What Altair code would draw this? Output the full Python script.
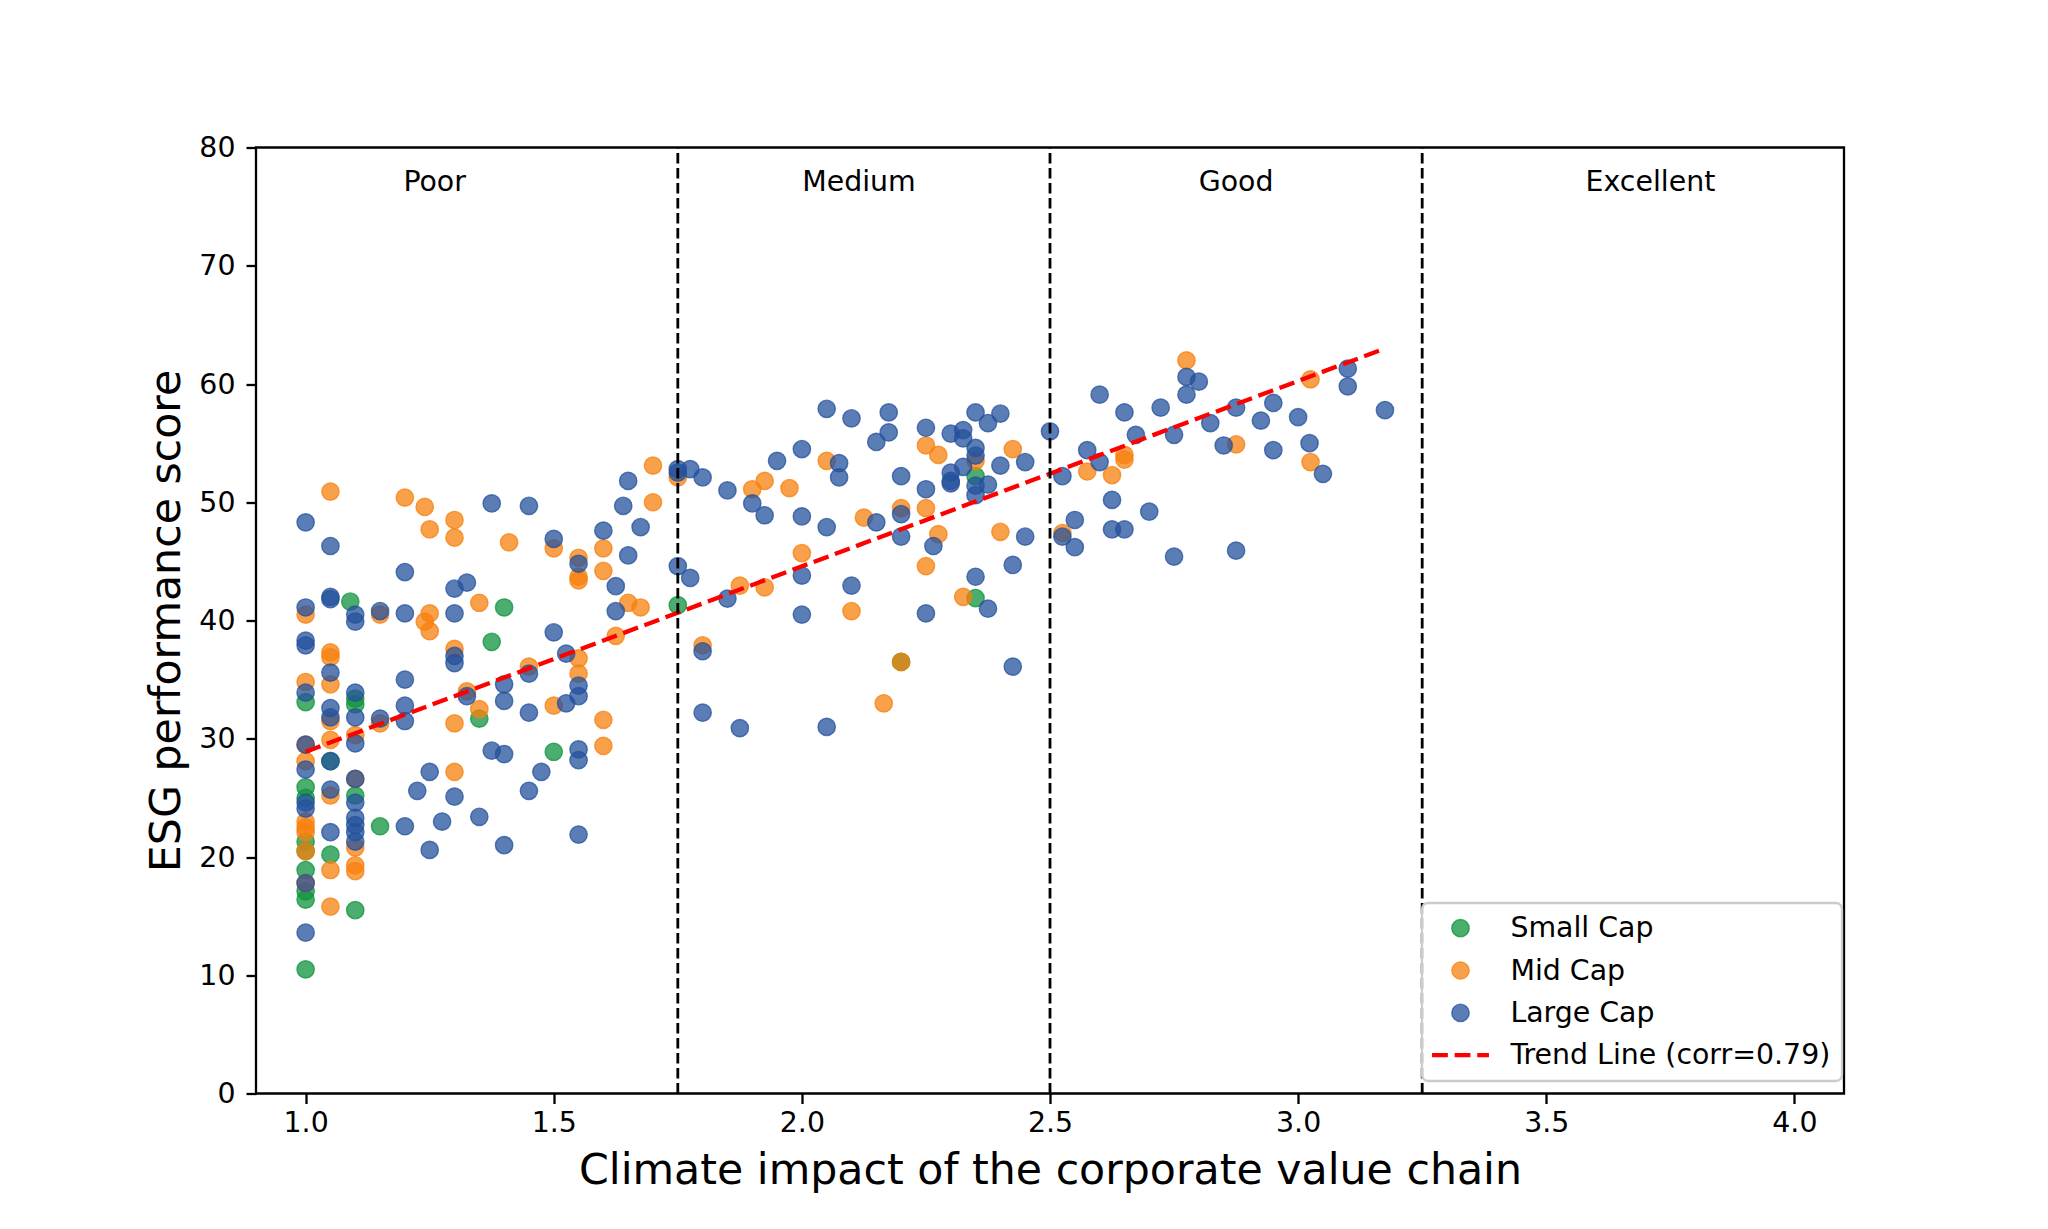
import altair as alt
import pandas as pd

# ---------------- data ----------------
GROUPS = ["Small Cap", "Mid Cap", "Large Cap", "Trend Line (corr=0.79)"]

small_x = [1.0, 1.0, 1.0, 1.0, 1.0, 1.0, 1.0, 1.0, 1.0,
           1.05, 1.05, 1.09, 1.1, 1.1, 1.1, 1.1, 1.15,
           1.35, 1.375, 1.4, 1.5, 1.75, 2.2, 2.35, 2.35]
small_y = [33.1, 25.9, 25.0, 21.3, 20.5, 18.9, 17.1, 16.4, 10.5,
           28.1, 20.2, 41.6, 33.4, 32.9, 25.2, 15.5, 22.6,
           31.7, 38.2, 41.1, 28.9, 41.3, 36.5, 52.2, 41.9]

mid_x = [1.0, 1.0, 1.0, 1.0, 1.0, 1.0, 1.0, 1.0, 1.0,
         1.05, 1.05, 1.05, 1.05, 1.05, 1.05, 1.05, 1.05, 1.05,
         1.1, 1.1, 1.1, 1.1, 1.1,
         1.15, 1.15, 1.2, 1.24, 1.24, 1.25, 1.25, 1.25,
         1.3, 1.3, 1.3, 1.3, 1.3, 1.325, 1.35, 1.35, 1.41, 1.45,
         1.5, 1.5, 1.55, 1.55, 1.55, 1.55, 1.55,
         1.6, 1.6, 1.6, 1.6, 1.625, 1.65, 1.675, 1.7, 1.7, 1.75,
         1.8, 1.875, 1.9, 1.925, 1.925, 1.975, 2.0, 2.05, 2.1, 2.125,
         2.165, 2.2, 2.2, 2.25, 2.25, 2.25, 2.275, 2.275, 2.325, 2.35,
         2.4, 2.425, 2.525, 2.575, 2.625, 2.65, 2.65, 2.775, 2.875,
         3.025, 3.025]
mid_y = [40.5, 34.8, 29.5, 28.1, 23.0, 22.5, 22.1, 20.5, 17.8,
         50.9, 37.3, 36.9, 34.6, 31.5, 29.9, 25.2, 18.9, 15.8,
         30.3, 26.6, 20.8, 19.3, 18.8,
         40.5, 31.3, 50.4, 49.6, 39.9, 47.7, 40.6, 39.1,
         48.5, 47.0, 37.6, 31.3, 27.2, 34.0, 41.5, 32.5, 46.6, 36.1,
         46.1, 32.8, 45.3, 43.7, 43.4, 36.8, 35.5,
         46.1, 44.2, 31.6, 29.4, 38.7, 41.5, 41.1, 53.1, 50.0, 52.1,
         37.9, 42.95, 51.1, 51.8, 42.8, 51.2, 45.7, 53.5, 40.8, 48.7,
         33.0, 49.5, 36.5, 54.8, 49.5, 44.6, 54.0, 47.3, 42.0, 53.5,
         47.5, 54.5, 47.4, 52.6, 52.3, 54.0, 53.6, 62.0, 54.9,
         60.4, 53.4]

large_x = [1.0, 1.0, 1.0, 1.0, 1.0, 1.0, 1.0, 1.0, 1.0, 1.0, 1.0,
           1.05, 1.05, 1.05, 1.05, 1.05, 1.05, 1.05, 1.05, 1.05,
           1.1, 1.1, 1.1, 1.1, 1.1, 1.1, 1.1, 1.1, 1.1, 1.1, 1.1,
           1.15, 1.15, 1.2, 1.2, 1.2, 1.2, 1.2, 1.2, 1.225, 1.25, 1.25, 1.275,
           1.3, 1.3, 1.3, 1.3, 1.3, 1.325, 1.325, 1.35, 1.375, 1.375,
           1.4, 1.4, 1.4, 1.4, 1.45, 1.45, 1.45, 1.45, 1.475, 1.5, 1.5,
           1.525, 1.525, 1.55, 1.55, 1.55, 1.55, 1.55, 1.55,
           1.6, 1.625, 1.625, 1.64, 1.65, 1.65, 1.675,
           1.75, 1.75, 1.75, 1.775, 1.775, 1.8, 1.8, 1.8, 1.85, 1.85, 1.875,
           1.9, 1.925, 1.95, 2.0, 2.0, 2.0, 2.0, 2.05, 2.05, 2.05,
           2.075, 2.075, 2.1, 2.1, 2.15, 2.15, 2.175, 2.175, 2.2, 2.2, 2.2,
           2.25, 2.25, 2.25, 2.265, 2.3, 2.3, 2.3, 2.3, 2.325, 2.325, 2.325,
           2.35, 2.35, 2.35, 2.35, 2.35, 2.35, 2.375, 2.375, 2.375, 2.4, 2.4,
           2.425, 2.425, 2.45, 2.45, 2.5, 2.525, 2.525, 2.55, 2.55, 2.575,
           2.6, 2.6, 2.625, 2.625, 2.65, 2.65, 2.673, 2.7, 2.723, 2.75, 2.75,
           2.775, 2.775, 2.8, 2.823, 2.85, 2.875, 2.875, 2.925, 2.95, 2.95,
           3.0, 3.023, 3.05, 3.1, 3.1, 3.175]
large_y = [48.3, 41.1, 38.3, 37.9, 33.9, 29.5, 27.4, 24.6, 24.1, 17.8, 13.6,
           46.3, 42.0, 41.8, 35.6, 32.6, 31.8, 28.1, 25.7, 22.1,
           40.5, 39.9, 33.9, 31.8, 29.6, 26.6, 24.6, 23.3, 22.7, 22.1, 21.3,
           40.8, 31.7, 44.1, 40.6, 35.0, 32.8, 31.5, 22.6, 25.6, 27.2, 20.6, 23.0,
           42.7, 40.6, 37.0, 36.4, 25.1, 43.2, 33.6, 23.4, 49.9, 29.0,
           34.6, 33.2, 28.7, 21.0, 49.7, 35.5, 32.2, 25.6, 27.2, 46.9, 39.0,
           37.2, 33.0, 44.8, 34.5, 33.6, 29.1, 28.2, 21.9,
           47.6, 42.9, 40.8, 49.7, 51.8, 45.5, 47.9,
           52.8, 52.5, 44.6, 52.8, 43.6, 52.1, 37.4, 32.2, 51.0, 41.85, 30.9,
           49.9, 48.9, 53.5, 54.5, 48.8, 43.8, 40.5, 57.9, 47.9, 31.0,
           53.3, 52.1, 57.1, 42.95, 55.1, 48.3, 57.6, 55.9, 52.2, 49.0, 47.1,
           56.3, 51.1, 40.6, 46.3, 55.8, 52.5, 51.8, 51.6, 56.1, 55.4, 53.0,
           57.6, 54.6, 53.95, 51.4, 50.6, 43.7, 56.7, 51.5, 41.0, 57.5, 53.1,
           44.7, 36.1, 53.4, 47.1, 56.0, 52.2, 47.1, 48.5, 46.2, 54.4,
           59.1, 53.4, 50.2, 47.7, 57.6, 47.7, 55.7, 49.2, 58.0, 55.7, 45.4,
           60.6, 59.1, 60.2, 56.7, 54.8, 58.0, 45.9, 56.9, 58.4, 54.4,
           57.2, 55.0, 52.4, 61.3, 59.8, 57.8]

trend_x = [1.0, 3.175]
trend_y = [28.9, 63.0]

zone_bounds = [1.75, 2.5, 3.25]
zone_labels = ["Poor", "Medium", "Good", "Excellent"]
zone_label_x = [1.26, 2.115, 2.875, 3.71]
zone_label_y = [77.1, 77.1, 77.1, 77.1]

x_ticks = [1.0, 1.5, 2.0, 2.5, 3.0, 3.5, 4.0]
y_ticks = [0, 10, 20, 30, 40, 50, 60, 70, 80]

# ---------------- tables ----------------
points = pd.concat([
    pd.DataFrame({"x": small_x, "y": small_y, "group": GROUPS[0]}),
    pd.DataFrame({"x": mid_x, "y": mid_y, "group": GROUPS[1]}),
    pd.DataFrame({"x": large_x, "y": large_y, "group": GROUPS[2]}),
], ignore_index=True)
points["order"] = range(len(points))
trend = pd.DataFrame({"x": trend_x, "y": trend_y})
bounds = pd.DataFrame({"x": zone_bounds, "y0": [0] * 3, "y1": [80] * 3})
zones = pd.DataFrame({"x": zone_label_x, "y": zone_label_y, "label": zone_labels})

FONT = "DejaVu Sans"
colors = ["rgba(16,147,62,0.75)", "rgba(247,128,14,0.75)",
          "rgba(36,82,156,0.75)", "#ff0000"]
dash_path = ("M-3.205,-0.17L-1.541,-0.17L-1.541,0.17L-3.205,0.17Z "
             "M-0.596,-0.17L1.068,-0.17L1.068,0.17L-0.596,0.17Z "
             "M2.013,-0.17L3.205,-0.17L3.205,0.17L2.013,0.17Z")
shapes = ["circle", "circle", "circle", dash_path]

xs = alt.Scale(domain=[0.9, 4.1], nice=False, zero=False)
ys = alt.Scale(domain=[0, 80], nice=False, zero=False)
cs = alt.Scale(domain=GROUPS, range=colors)
ss = alt.Scale(domain=GROUPS, range=shapes)

leg = alt.Legend(title=None, orient="none", legendX=1166, legendY=755.5)

x_axis = alt.Axis(values=x_ticks, format=".1f", labelFlush=False, labelPadding=6,
                  title="Climate impact of the corporate value chain",
                  titleBaseline="alphabetic", titleY=90)
y_axis = alt.Axis(values=y_ticks, format="d", labelPadding=11,
                  title="ESG performance score",
                  titleBaseline="alphabetic", titleX=-77)

pts = alt.Chart(points).mark_point(filled=True, size=300, strokeWidth=1.4, opacity=1).encode(
    x=alt.X("x:Q", scale=xs, axis=x_axis),
    y=alt.Y("y:Q", scale=ys, axis=y_axis),
    fill=alt.Fill("group:N", scale=cs, legend=leg),
    stroke=alt.Stroke("group:N", scale=cs, legend=leg),
    shape=alt.Shape("group:N", scale=ss, legend=leg),
    order=alt.Order("order:Q"),
)

trend_line = alt.Chart(trend).mark_line(color="#ff0000", strokeWidth=4.3,
                                        strokeDash=[15.8, 6.8]).encode(
    x=alt.X("x:Q", scale=xs),
    y=alt.Y("y:Q", scale=ys),
)

rules = alt.Chart(bounds).mark_rule(color="black", strokeWidth=2.8,
                                    strokeDash=[10.5, 4.5]).encode(
    x=alt.X("x:Q", scale=xs),
    y=alt.Y("y0:Q", scale=ys),
    y2="y1:Q",
)

texts = alt.Chart(zones).mark_text(font=FONT, fontSize=28.4, color="black",
                                   align="center", baseline="middle").encode(
    x=alt.X("x:Q", scale=xs),
    y=alt.Y("y:Q", scale=ys),
    text="label:N",
)

chart = alt.layer(pts, trend_line, rules, texts).properties(
    width=1588, height=946,
    padding={"left": 248, "top": 139.5, "right": 150, "bottom": 100},
    autosize=alt.AutoSizeParams(type="none"),
    background="white",
).configure_view(
    stroke="black", strokeWidth=2.3,
).configure_axis(
    domain=False, grid=False, ticks=True, tickColor="black", tickWidth=2.3, tickSize=10,
    labelFont=FONT, labelFontSize=28.4, labelColor="black",
    titleFont=FONT, titleFontSize=42.7, titleFontWeight="normal", titleColor="black",
).configure_legend(
    labelFont=FONT, labelFontSize=28.4, labelColor="black", labelLimit=0,
    padding=11, rowPadding=13.3, symbolSize=300, symbolStrokeWidth=1.4,
    symbolOffset=13.3, labelOffset=35.7,
    strokeColor="#cccccc", strokeWidth=2.3, fillColor="rgba(255,255,255,0.8)",
    cornerRadius=6,
)

chart.save("out.html", embed_options={"renderer": "svg", "actions": False})
